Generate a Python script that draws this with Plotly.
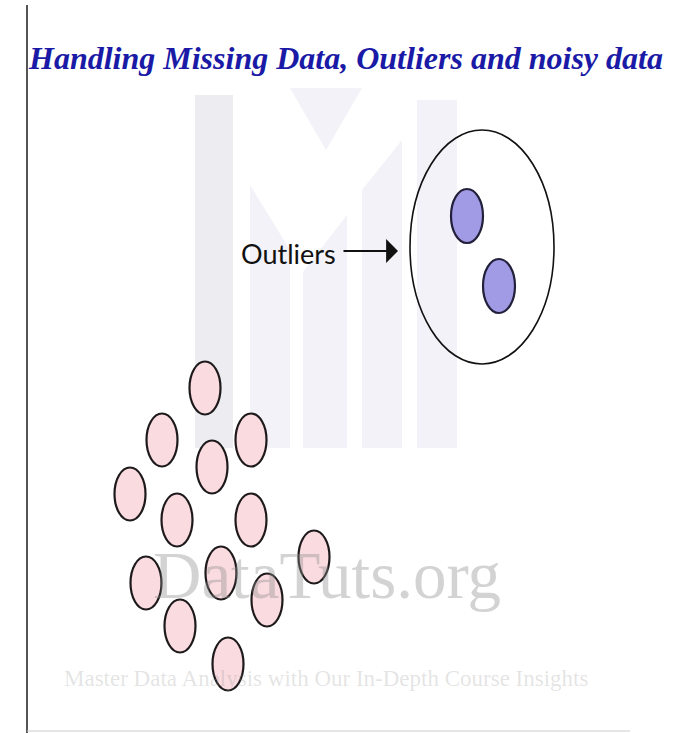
import plotly.graph_objects as go

# ---- text content ----
title_text = "Handling Missing Data, Outliers and noisy data"
label_text = "Outliers"
watermark_main = "DataTuts.org"
watermark_sub = "Master Data Analysis with Our In-Depth Course Insights"

# ---- data: point centres (pixel-space coordinates of the illustration) ----
normal_x = [205, 162, 251, 212, 130, 177, 251, 314, 146, 221, 267, 180, 228]
normal_y = [388, 440, 440, 467, 494, 520, 520, 557, 583, 573, 600, 626, 664]
outlier_x = [467, 499]
outlier_y = [216, 286]
group_center = [482, 247]

W, H = 678, 733

fig = go.Figure()
shapes = []

# ---- watermark "M" logo (very light) ----
wm_dark = "#ececf1"
wm_light = "#f2f2f8"
shapes += [
    dict(type="rect", x0=195, x1=233, y0=95, y1=448, fillcolor=wm_dark, line_width=0, layer="below"),
    dict(type="rect", x0=417, x1=457, y0=100, y1=448, fillcolor=wm_light, line_width=0, layer="below"),
    dict(type="path", path="M 250,185 L 290,250 L 290,448 L 250,448 Z", fillcolor=wm_light, line_width=0, layer="below"),
    dict(type="path", path="M 303,272 L 347,215 L 347,448 L 303,448 Z", fillcolor=wm_light, line_width=0, layer="below"),
    dict(type="path", path="M 362,190 L 402,140 L 402,448 L 362,448 Z", fillcolor=wm_light, line_width=0, layer="below"),
    dict(type="path", path="M 290,88 L 362,88 L 326,150 Z", fillcolor=wm_light, line_width=0, layer="below"),
]

# ---- frame lines ----
shapes.append(dict(type="line", x0=27, x1=27, y0=5, y1=H, line=dict(color="#555555", width=2)))
shapes.append(dict(type="line", x0=27, x1=630, y0=731, y1=731, line=dict(color="#cccccc", width=1)))

# ---- normal points (ellipses) ----
rx_n, ry_n = 15.5, 26.5
for cx, cy in zip(normal_x, normal_y):
    shapes.append(dict(type="circle", xref="x", yref="y",
                       x0=cx - rx_n, x1=cx + rx_n, y0=cy - ry_n, y1=cy + ry_n,
                       fillcolor="#fadbe0", line=dict(color="#1e1a1c", width=2.2)))

# ---- outlier group boundary ----
gx, gy = group_center
shapes.append(dict(type="circle", x0=gx - 72, x1=gx + 72, y0=gy - 117, y1=gy + 117,
                   line=dict(color="#111111", width=1.6)))

# ---- outliers ----
rx_o, ry_o = 16, 27
for cx, cy in zip(outlier_x, outlier_y):
    shapes.append(dict(type="circle", x0=cx - rx_o, x1=cx + rx_o, y0=cy - ry_o, y1=cy + ry_o,
                       fillcolor="#a19be6", line=dict(color="#22203a", width=2.2)))

# invisible traces carrying the points (hover)
fig.add_trace(go.Scatter(x=normal_x, y=normal_y, mode="markers",
                         marker=dict(size=1, opacity=0), name="data", hoverinfo="x+y"))
fig.add_trace(go.Scatter(x=outlier_x, y=outlier_y, mode="markers",
                         marker=dict(size=1, opacity=0), name="outliers", hoverinfo="x+y"))

annotations = [
    dict(text=title_text, x=345, y=58, xref="x", yref="y", showarrow=False,
         xanchor="center", yanchor="middle",
         font=dict(family="Liberation Serif", size=32, color="#1a1aa6", weight="bold", style="italic")),
    dict(text=watermark_main, x=327, y=575, xref="x", yref="y", showarrow=False,
         xanchor="center", yanchor="middle",
         font=dict(family="Liberation Serif", size=67, color="rgba(140,140,140,0.38)")),
    dict(text=watermark_sub, x=326, y=678, xref="x", yref="y", showarrow=False,
         xanchor="center", yanchor="middle",
         font=dict(family="Liberation Serif", size=23, color="rgba(150,150,150,0.26)")),
    dict(text=label_text, x=288, y=253, xref="x", yref="y", showarrow=False,
         xanchor="center", yanchor="middle",
         font=dict(family="Lato", size=27, color="#111111")),
    dict(text="", x=398, y=251, ax=342, ay=251, xref="x", yref="y", axref="x", ayref="y",
         showarrow=True, arrowhead=1, arrowsize=1.8, arrowwidth=2.2, arrowcolor="#111111"),
]

fig.update_layout(
    width=W, height=H, autosize=False,
    margin=dict(l=0, r=0, t=0, b=0),
    paper_bgcolor="white", plot_bgcolor="white",
    showlegend=False,
    xaxis=dict(range=[0, W], visible=False, fixedrange=True),
    yaxis=dict(range=[H, 0], visible=False, fixedrange=True),
    shapes=shapes,
    annotations=annotations,
)

fig.write_html("out.html", config={"displayModeBar": False},
               post_script="document.body.style.margin='0';")
